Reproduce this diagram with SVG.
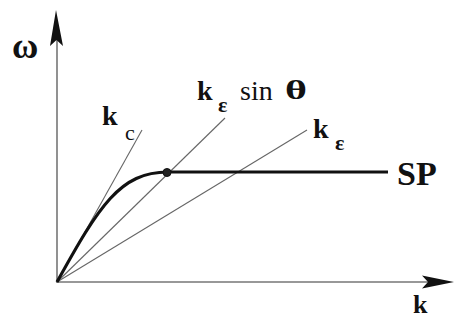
<svg xmlns="http://www.w3.org/2000/svg" width="455" height="320" viewBox="0 0 455 320">
<style>
.b{font-family:'Liberation Serif','DejaVu Serif',serif;font-weight:bold;fill:#111}
.r{font-family:'Liberation Serif','DejaVu Serif',serif;fill:#111}
.thin{stroke:#666;stroke-width:1.1;fill:none}
.axis{stroke:#777;stroke-width:1.6;fill:none}
</style>
<rect width="455" height="320" fill="#fff"/>
<g id="axes">
<path class="axis" d="M57,283 V40 M57,282 H428"/>
<path d="M56,10 L63,46 L56.5,40 L50,46 Z" fill="#111"/>
<path d="M454,282 L422,275.5 L428,282 L422,288.5 Z" fill="#111"/>
</g>
<g id="connectors">
<path class="thin" d="M57,282 L142,130"/>
<path class="thin" d="M57,282 L225,118"/>
<path class="thin" d="M57,282 L307,130"/>
</g>
<g id="curve">
<path d="M57,282 C99,206 120,172 168,172 H388" stroke="#111" stroke-width="3.2" fill="none"/>
<circle cx="167" cy="172.5" r="4" fill="#222" stroke="#111" stroke-width="1"/>
</g>
<g id="labels">
<text class="b" x="12" y="58" font-size="36">ω</text>
<text class="b" x="413" y="313" font-size="26">k</text>
<text class="b" x="102" y="125" font-size="28">k</text>
<text class="r" x="125" y="140" font-size="22">c</text>
<text class="b" x="197" y="100" font-size="28">k</text>
<text class="b" x="218" y="112" font-size="22">ε</text>
<text class="r" x="240" y="100" font-size="28">sin</text>
<text class="b" x="285" y="99" font-size="28" textLength="22" lengthAdjust="spacingAndGlyphs">θ</text>
<text class="b" x="313" y="138" font-size="28">k</text>
<text class="b" x="335" y="150" font-size="22">ε</text>
<text class="b" x="397" y="185" font-size="34">SP</text>
</g>
</svg>
